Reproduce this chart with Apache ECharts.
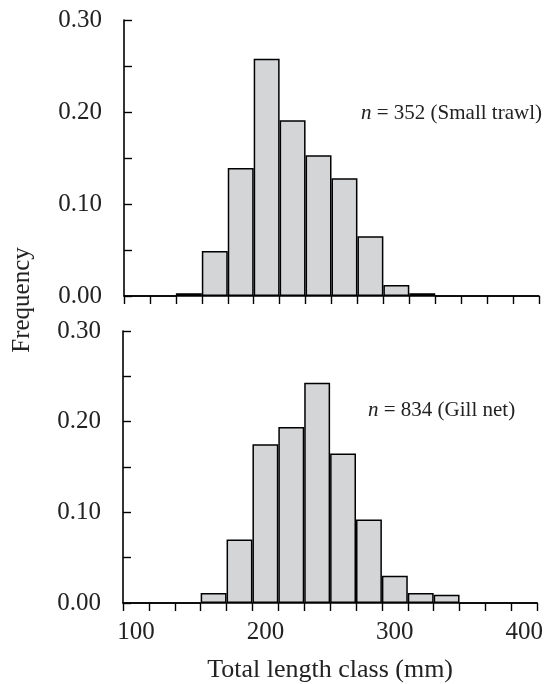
<!DOCTYPE html>
<html>
<head>
<meta charset="utf-8">
<script src="https://cdn.jsdelivr.net/npm/echarts@6/dist/echarts.min.js"></script>
<style>
html,body{margin:0;padding:0;background:#fff;}
#chart{width:546px;height:684px;}
</style>
</head>
<body>
<div id="chart"></div>
<script>
// Length classes (mm), bin centres, 20 mm wide
const lengthClasses = ['100','120','140','160','180','200','220','240','260','280','300','320','340','360','380','400'];
// Frequency, small trawl (n = 352)
const trawlFreq = [0, 0, 0.003, 0.049, 0.139, 0.258, 0.191, 0.153, 0.128, 0.065, 0.012, 0.003, 0, 0, 0, 0];
// Frequency, gill net (n = 834)
const gillFreq = [0, 0, 0, 0.011, 0.070, 0.175, 0.194, 0.243, 0.165, 0.092, 0.030, 0.011, 0.009, 0, 0, 0];
const trawlNote = '{i|n} = 352 (Small trawl)';
const gillNote = '{i|n} = 834 (Gill net)';

const FONT = '"Liberation Serif", "Times New Roman", serif';
const chart = echarts.init(document.getElementById('chart'), null, {renderer: 'canvas'});

function yAxisFor(gi) {
  return {
    type: 'value', gridIndex: gi, min: 0, max: 0.30, interval: 0.05,
    axisLine: {show: true, lineStyle: {color: '#000', width: 1.6}},
    axisTick: {show: true, inside: true, length: 8, lineStyle: {color: '#000', width: 1.4}},
    splitLine: {show: false},
    axisLabel: {
      margin: 22, color: '#222', fontFamily: FONT, fontSize: 25,
      formatter: v => (Math.round(v * 100) % 10 === 0 ? v.toFixed(2) : '')
    }
  };
}
function xAxisFor(gi, showLabels) {
  return {
    type: 'category', gridIndex: gi, data: lengthClasses, boundaryGap: true,
    axisLine: {show: true, lineStyle: {color: '#000', width: 1.6}},
    axisTick: {show: true, inside: false, length: 8, interval: 0, alignWithLabel: false, lineStyle: {color: '#000', width: 1.4}},
    splitLine: {show: false},
    axisLabel: {show: showLabels, interval: 4, margin: 17, color: '#222', fontFamily: FONT, fontSize: 25},
    name: showLabels ? 'Total length class (mm)' : '',
    nameLocation: 'middle', nameGap: 54,
    nameTextStyle: {color: '#222', fontFamily: FONT, fontSize: 26}
  };
}
function barSeries(gi, data) {
  return {
    type: 'bar', xAxisIndex: gi, yAxisIndex: gi, data: data,
    barCategoryGap: '0%', barGap: '0%',
    itemStyle: {color: '#d4d5d7', borderColor: '#000', borderWidth: 1.5},
    emphasis: {disabled: true}, silent: true
  };
}

chart.setOption({
  animation: false,
  backgroundColor: '#fff',
  grid: [
    {left: 124, right: 7, top: 20, height: 276},
    {left: 123, right: 8, top: 331, height: 274}
  ],
  xAxis: [xAxisFor(0, false), xAxisFor(1, true)],
  yAxis: [yAxisFor(0), yAxisFor(1)],
  series: [barSeries(0, trawlFreq), barSeries(1, gillFreq)],
  graphic: [
    {type: 'text', x: 22, y: 300, rotation: Math.PI / 2,
     style: {text: 'Frequency', fill: '#222', font: '25px ' + FONT, align: 'center', verticalAlign: 'middle'}},
    {type: 'text', x: 361, y: 113,
     style: {text: trawlNote, fill: '#222', fontFamily: FONT, fontSize: 21, verticalAlign: 'middle',
             rich: {i: {fontStyle: 'italic', fontFamily: FONT, fontSize: 21, fill: '#222'}}}},
    {type: 'text', x: 368, y: 410,
     style: {text: gillNote, fill: '#222', fontFamily: FONT, fontSize: 21, verticalAlign: 'middle',
             rich: {i: {fontStyle: 'italic', fontFamily: FONT, fontSize: 21, fill: '#222'}}}}
  ]
});
</script>
</body>
</html>
